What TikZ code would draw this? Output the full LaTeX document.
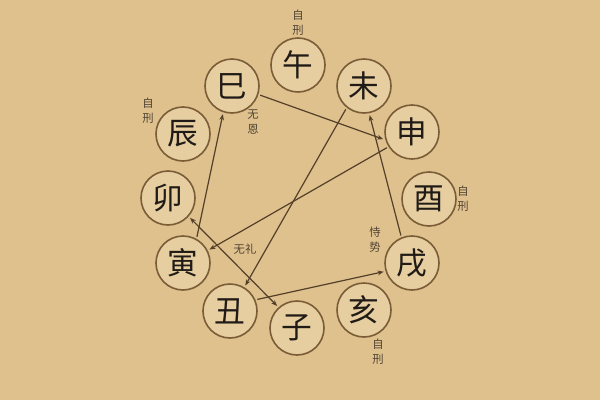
\documentclass[tikz,border=0pt]{standalone}
\usepackage{fontspec}
\newfontfamily\cjk{Noto Sans CJK SC}
\usetikzlibrary{arrows.meta}
\definecolor{paper}{RGB}{223,193,142}
\definecolor{disc}{RGB}{230,206,160}
\definecolor{ring}{RGB}{122,92,55}
\definecolor{wire}{RGB}{84,63,40}
\definecolor{ink}{RGB}{32,27,22}
\definecolor{note}{RGB}{82,68,52}
\tikzset{
  branch/.style={circle,draw=ring,fill=disc,line width=1.2pt,minimum size=40.5pt,inner sep=0pt,outer sep=2pt,text=ink,font=\cjk\fontsize{23}{23}\selectfont},
  tag/.style={inner sep=0.75pt,text=note,align=center,font=\cjk\fontsize{8.5}{11}\selectfont},
  hit/.style={draw=wire,line width=0.9pt,-{Stealth[length=4.5pt,width=3.5pt]}},
  mutual/.style={draw=wire,line width=0.9pt,{Stealth[length=4.5pt,width=3.5pt]}-{Stealth[length=4.5pt,width=3.5pt]}},
}
\begin{document}
\begin{tikzpicture}[x=0.75pt,y=0.75pt,yscale=-1,xscale=1]
%Shape: Background
\fill[paper] (0,0) rectangle (600,400);
\useasboundingbox (0,0) rectangle (600,400);

%Shape: Circle [wu]
\node[branch] (wu) at (298,65) {午};
%Shape: Circle [si]
\node[branch] (si) at (232,86) {巳};
%Shape: Circle [wei]
\node[branch] (wei) at (364,86) {未};
%Shape: Circle [chen]
\node[branch] (chen) at (183,134) {辰};
%Shape: Circle [shen]
\node[branch] (shen) at (412,132) {申};
%Shape: Circle [mao]
\node[branch] (mao) at (168,198) {卯};
%Shape: Circle [you]
\node[branch] (you) at (429,199) {酉};
%Shape: Circle [yin]
\node[branch] (yin) at (183,263) {寅};
%Shape: Circle [xu]
\node[branch] (xu) at (412,263) {戌};
%Shape: Circle [chou]
\node[branch] (chou) at (230,311) {丑};
%Shape: Circle [hai]
\node[branch] (hai) at (364,310) {亥};
%Shape: Circle [zi]
\node[branch] (zi) at (297,328) {子};

%Straight Lines: yin -> si -> shen -> yin
\draw[hit] (yin.62) -- (si.252);
\draw[hit] (si.342) -- (shen.194);
\draw[hit] (shen.212) -- (yin.27);
%Straight Lines: chou -> xu -> wei -> chou
\draw[hit] (chou.23) -- (xu.197);
\draw[hit] (xu.112) -- (wei.281);
\draw[hit] (wei.232) -- (chou.59);
%Straight Lines: mao <-> zi
\draw[mutual] (mao.318) -- (zi.132);

% Text Node
\node[tag] (wutag) at (298,23) {自\\刑};
% Text Node
\node[tag] (chentag) at (148,111) {自\\刑};
% Text Node
\node[tag] (sitag) at (253,122) {无\\恩};
% Text Node
\node[tag] (youtag) at (463,199) {自\\刑};
% Text Node
\node[tag] (xutag) at (375,240) {恃\\势};
% Text Node
\node[tag] (haitag) at (378,352) {自\\刑};
% Text Node
\node[tag] (maotag) at (245,249) {无礼};

\end{tikzpicture}
\end{document}
